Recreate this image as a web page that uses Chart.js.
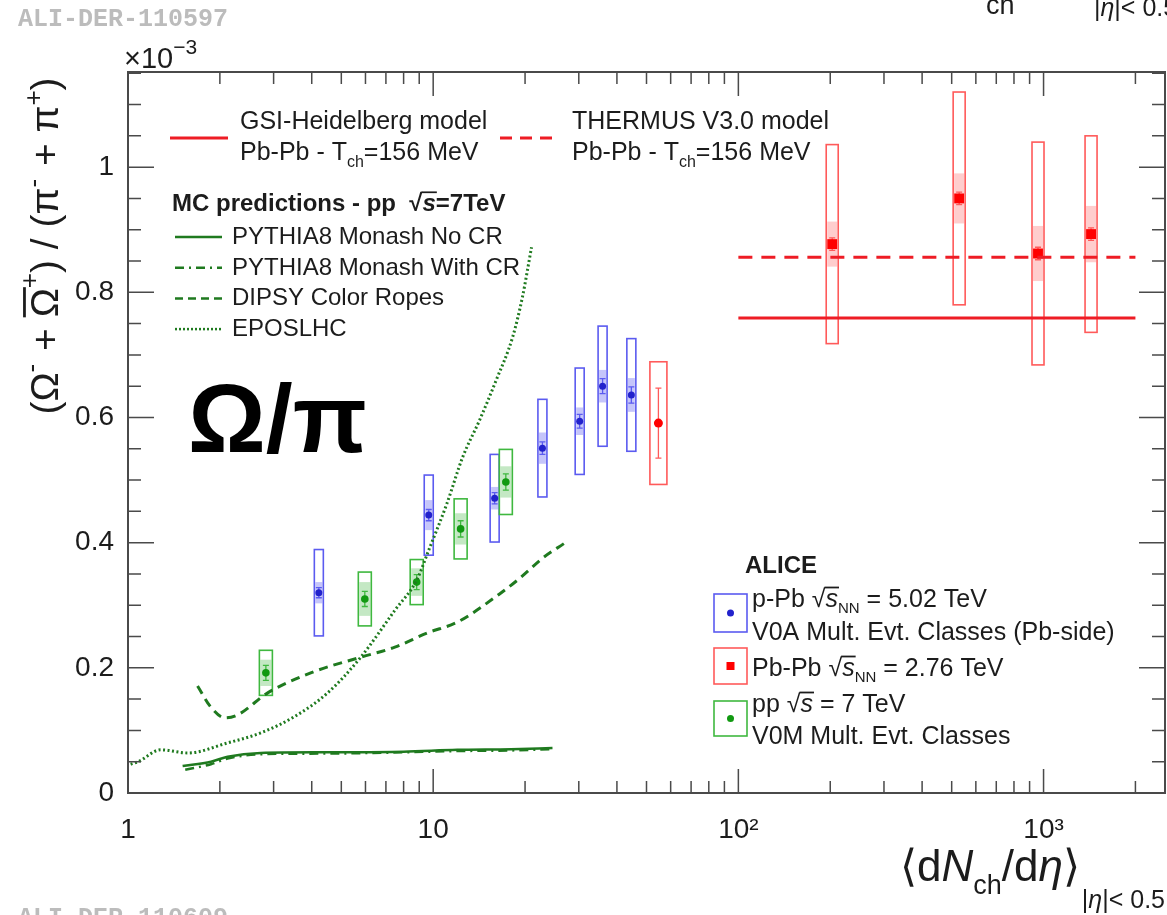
<!DOCTYPE html>
<html>
<head>
<meta charset="utf-8">
<script src="https://cdn.jsdelivr.net/npm/chart.js@4.4.1/dist/chart.umd.min.js"></script>
<style>
  html, body { margin: 0; padding: 0; background: #fff; }
  #wrap { width: 1167px; height: 915px; position: relative; }
</style>
</head>
<body>
<div id="wrap"><canvas id="omegaChart" width="1167" height="915"></canvas></div>
<script>
// ---- data (y in units of 1e-3) ----
const xTickVals = [1, 10, 100, 1000];
const xTickLabels = ['1', '10', '10²', '10³'];
const yTickVals = [0, 0.2, 0.4, 0.6, 0.8, 1];
const yTickLabels = ['0', '0.2', '0.4', '0.6', '0.8', '1'];

// p-Pb 5.02 TeV
const pPbX = [4.22, 9.67, 15.9, 22.8, 30.2, 35.9, 44.6];
const pPbY = [0.320, 0.444, 0.471, 0.551, 0.594, 0.650, 0.636];
const pPbSys = [0.069, 0.064, 0.070, 0.078, 0.085, 0.096, 0.090];
const pPbUnc = [0.017, 0.024, 0.018, 0.025, 0.022, 0.026, 0.027];
const pPbStat = [0.008, 0.009, 0.009, 0.010, 0.011, 0.012, 0.013];

// Pb-Pb 2.76 TeV
const pbPbX = [54.7, 203, 529, 959, 1431];
const pbPbY = [0.591, 0.877, 0.950, 0.862, 0.893];
const pbPbSys = [0.098, 0.159, 0.170, 0.178, 0.157];
const pbPbUnc = [0, 0.036, 0.040, 0.044, 0.045];
const pbPbStat = [0.056, 0.010, 0.010, 0.010, 0.010];

// pp 7 TeV
const ppX = [2.83, 5.97, 8.83, 12.3, 17.3];
const ppY = [0.192, 0.310, 0.337, 0.422, 0.497];
const ppSys = [0.036, 0.043, 0.036, 0.048, 0.052];
const ppUnc = [0.021, 0.027, 0.022, 0.025, 0.025];
const ppStat = [0.012, 0.012, 0.012, 0.013, 0.013];

// thermal models
const gsiX = [100, 2000];
const gsiY = [0.759, 0.759];
const thermusX = [100, 2000];
const thermusY = [0.856, 0.856];

// MC predictions pp 7 TeV
const pyNoCrX = [1.51, 1.87, 2.12, 2.72, 4.5, 8, 12, 18, 24.6];
const pyNoCrY = [0.043, 0.050, 0.058, 0.064, 0.065, 0.066, 0.069, 0.070, 0.072];
const pyCrX = [1.54, 1.87, 2.12, 2.72, 4.5, 8, 12, 18, 24.6];
const pyCrY = [0.037, 0.046, 0.055, 0.062, 0.063, 0.065, 0.067, 0.068, 0.070];
const dipsyX = [1.69, 1.87, 2.08, 2.29, 2.87, 3.97, 5.79, 7.49, 9.6, 12.0, 16.5, 19.2, 22.8, 26.9];
const dipsyY = [0.171, 0.137, 0.120, 0.125, 0.160, 0.192, 0.217, 0.233, 0.256, 0.273, 0.318, 0.343, 0.375, 0.399];
const eposX = [1.02, 1.08, 1.28, 1.57, 2.12, 2.72, 3.51, 4.51, 5.79, 7.49, 8.83, 9.67, 11.1, 12.5, 14.2, 16.1, 18.2, 19.6, 21.0];
const eposY = [0.046, 0.050, 0.069, 0.064, 0.080, 0.096, 0.122, 0.160, 0.217, 0.292, 0.340, 0.388, 0.463, 0.537, 0.596, 0.660, 0.728, 0.792, 0.872];

const FONT = '"Liberation Sans", Arial, Helvetica, sans-serif';
const TXT = '#1c1c1c';
const RED = '#ee1c25';
const GREEN_LINE = '#1f7a1f';
const BLUE_BOX = '#5b5bf0';
const RED_BOX = '#ff5a5a';
const GREEN_BOX = '#3fb83f';

const zip = (xs, ys) => xs.map((x, i) => ({ x: x, y: ys[i] }));

// draws a run of text pieces (sub/superscripts, overlines), returns width
function drawPieces(ctx, x, y, pieces, measureOnly) {
    let cx = x;
    pieces.forEach(p => {
        ctx.font = (p.italic ? 'italic ' : '') + (p.bold ? 'bold ' : '') + p.size + 'px ' + FONT;
        const w = ctx.measureText(p.t).width;
        if (!measureOnly) {
            ctx.fillText(p.t, cx, y + (p.dy || 0));
            if (p.over) {
                ctx.save();
                ctx.strokeStyle = ctx.fillStyle;
                ctx.lineWidth = Math.max(1.2, p.size / 14);
                const oy = y + (p.dy || 0) - p.size * (p.overH || 0.8);
                ctx.beginPath();
                ctx.moveTo(cx - (p.overL || 0), oy);
                ctx.lineTo(cx + w + 1, oy);
                ctx.stroke();
                ctx.restore();
            }
        }
        cx += w + (p.gap || 0);
    });
    return cx - x;
}

function sqrtS(size, sub) {
    const arr = [
        { t: '√', size: size },
        { t: 's', size: size, italic: true, over: true, overH: 0.78, overL: 1 }
    ];
    if (sub) arr.push({ t: sub, size: size * 0.6, dy: size * 0.22 });
    return arr;
}

// systematic boxes + error bars, drawn under the markers
const errorBoxes = {
    id: 'errorBoxes',
    beforeDatasetsDraw(chart) {
        const { ctx, chartArea, scales: { x, y } } = chart;
        ctx.save();
        ctx.beginPath();
        ctx.rect(chartArea.left, chartArea.top, chartArea.width, chartArea.height);
        ctx.clip();
        const groups = [
            { xs: pPbX, ys: pPbY, sys: pPbSys, unc: pPbUnc, stat: pPbStat, col: BLUE_BOX, fill: 'rgba(90,90,240,0.35)', hw: () => 4.5 },
            { xs: pbPbX, ys: pbPbY, sys: pbPbSys, unc: pbPbUnc, stat: pbPbStat, col: RED_BOX, fill: 'rgba(255,90,90,0.3)', hw: i => (i === 0 ? 8.5 : 6) },
            { xs: ppX, ys: ppY, sys: ppSys, unc: ppUnc, stat: ppStat, col: GREEN_BOX, fill: 'rgba(60,180,60,0.3)', hw: () => 6.5 }
        ];
        groups.forEach(g => {
            g.xs.forEach((xv, i) => {
                const px = x.getPixelForValue(xv);
                const hw = g.hw(i);
                const top = y.getPixelForValue(g.ys[i] + g.sys[i]);
                const bot = y.getPixelForValue(g.ys[i] - g.sys[i]);
                if (g.unc[i] > 0) {
                    const ut = y.getPixelForValue(g.ys[i] + g.unc[i]);
                    const ub = y.getPixelForValue(g.ys[i] - g.unc[i]);
                    ctx.fillStyle = g.fill;
                    ctx.fillRect(px - hw + 1, ut, 2 * hw - 2, ub - ut);
                }
                ctx.strokeStyle = g.col;
                ctx.lineWidth = 1.6;
                ctx.strokeRect(px - hw, top, 2 * hw, bot - top);
                // stat error bar
                const st = y.getPixelForValue(g.ys[i] + g.stat[i]);
                const sb = y.getPixelForValue(g.ys[i] - g.stat[i]);
                ctx.lineWidth = 1.3;
                ctx.beginPath();
                ctx.moveTo(px, st); ctx.lineTo(px, sb);
                ctx.moveTo(px - 3, st); ctx.lineTo(px + 3, st);
                ctx.moveTo(px - 3, sb); ctx.lineTo(px + 3, sb);
                ctx.stroke();
            });
        });
        ctx.restore();
    }
};

// ROOT-like frame, inward ticks and all the annotation text
const frameAndText = {
    id: 'frameAndText',
    afterDraw(chart) {
        const { ctx, chartArea: ca, scales: { x, y } } = chart;
        ctx.save();
        ctx.strokeStyle = '#4a4a4a';
        ctx.lineWidth = 2;
        ctx.strokeRect(ca.left, ca.top, ca.right - ca.left, ca.bottom - ca.top);

        ctx.lineWidth = 1.5;
        ctx.beginPath();
        // x ticks (bottom and top)
        for (let d = 1; d <= 1000; d *= 10) {
            for (let k = 1; k <= 9; k++) {
                const v = k * d;
                if (v > x.max) break;
                const px = x.getPixelForValue(v);
                const len = k === 1 ? 24 : 12;
                ctx.moveTo(px, ca.bottom); ctx.lineTo(px, ca.bottom - len);
                ctx.moveTo(px, ca.top); ctx.lineTo(px, ca.top + len);
            }
        }
        // y ticks (left and right)
        for (let i = 0; i * 0.05 <= y.max + 1e-9; i++) {
            const py = y.getPixelForValue(i * 0.05);
            const len = i % 4 === 0 ? 26 : 13;
            ctx.moveTo(ca.left, py); ctx.lineTo(ca.left + len, py);
            ctx.moveTo(ca.right, py); ctx.lineTo(ca.right - len, py);
        }
        ctx.stroke();

        ctx.fillStyle = TXT;
        ctx.textBaseline = 'alphabetic';
        ctx.textAlign = 'left';

        // x10^-3
        drawPieces(ctx, 124, 68, [
            { t: '×10', size: 29 },
            { t: '−3', size: 21, dy: -14 }
        ]);

        // y-axis title
        const yTitle = [
            { t: '(Ω', size: 39 },
            { t: '-', size: 26, dy: -18, gap: 2 },
            { t: ' + ', size: 39 },
            { t: 'Ω', size: 39, over: true, overH: 0.86 },
            { t: '+', size: 26, dy: -20 },
            { t: ') / (π', size: 39 },
            { t: '-', size: 26, dy: -16, gap: 2 },
            { t: ' + π', size: 39 },
            { t: '+', size: 26, dy: -16 },
            { t: ')', size: 39 }
        ];
        ctx.save();
        ctx.translate(58, 246);
        ctx.rotate(-Math.PI / 2);
        const tw = drawPieces(ctx, 0, 0, yTitle, true);
        drawPieces(ctx, -tw / 2, 0, yTitle);
        ctx.restore();

        // x-axis title, right-aligned on the canvas edge
        const xTitle = [
            { t: '⟨d', size: 44 },
            { t: 'N', size: 44, italic: true },
            { t: 'ch', size: 27, dy: 13 },
            { t: '/d', size: 44 },
            { t: 'η', size: 44, italic: true },
            { t: '⟩', size: 44, gap: 2 },
            { t: '|', size: 25, dy: 27 },
            { t: 'η', size: 25, dy: 27, italic: true },
            { t: '|< 0.5', size: 25, dy: 27 }
        ];
        const xw = drawPieces(ctx, 0, 0, xTitle, true);
        drawPieces(ctx, 1165 - xw, 881, xTitle);
        // cut-off title of the panel above
        ctx.font = '27px ' + FONT;
        ctx.fillText('ch', 986, 14);
        drawPieces(ctx, 1094, 16, [
            { t: '|', size: 25 },
            { t: 'η', size: 25, italic: true },
            { t: '|< 0.5', size: 25 }
        ]);

        // watermarks
        ctx.fillStyle = '#bcbcbc';
        ctx.font = 'bold 25px "Liberation Mono", "DejaVu Sans Mono", monospace';
        ctx.fillText('ALI-DER-110597', 18, 26);
        ctx.fillText('ALI-DER-110609', 18, 925);

        // Omega / pi label
        ctx.fillStyle = '#000';
        ctx.font = 'bold 97px ' + FONT;
        ctx.fillText('Ω/π', 188, 452);

        ctx.fillStyle = TXT;
        // thermal model legend
        ctx.lineWidth = 3;
        ctx.strokeStyle = RED;
        ctx.beginPath(); ctx.moveTo(170, 138); ctx.lineTo(228, 138); ctx.stroke();
        ctx.setLineDash([12, 8]);
        ctx.beginPath(); ctx.moveTo(500, 138); ctx.lineTo(555, 138); ctx.stroke();
        ctx.setLineDash([]);
        ctx.font = '25px ' + FONT;
        ctx.fillText('GSI-Heidelberg model', 240, 129);
        drawPieces(ctx, 240, 160, [
            { t: 'Pb-Pb - T', size: 25 }, { t: 'ch', size: 16, dy: 7 }, { t: '=156 MeV', size: 25 }
        ]);
        ctx.font = '25px ' + FONT;
        ctx.fillText('THERMUS V3.0 model', 572, 129);
        drawPieces(ctx, 572, 160, [
            { t: 'Pb-Pb - T', size: 25 }, { t: 'ch', size: 16, dy: 7 }, { t: '=156 MeV', size: 25 }
        ]);

        // MC legend
        drawPieces(ctx, 172, 211, [
            { t: 'MC predictions - pp  ', size: 24, bold: true }
        ].concat(sqrtS(24).map(p => Object.assign({ bold: true }, p))).concat([
            { t: '=7TeV', size: 24, bold: true }
        ]));
        const mcEntries = [
            { label: 'PYTHIA8 Monash No CR', dash: [] },
            { label: 'PYTHIA8 Monash With CR', dash: [9, 5, 2, 5] },
            { label: 'DIPSY Color Ropes', dash: [8, 5] },
            { label: 'EPOSLHC', dash: [2, 2] }
        ];
        ctx.strokeStyle = GREEN_LINE;
        ctx.lineWidth = 2.5;
        mcEntries.forEach((e, i) => {
            const ly = 237 + i * 30.7;
            ctx.setLineDash(e.dash);
            ctx.beginPath(); ctx.moveTo(175, ly); ctx.lineTo(222, ly); ctx.stroke();
            ctx.setLineDash([]);
            ctx.font = '24px ' + FONT;
            ctx.fillText(e.label, 232, ly + 7);
        });

        // ALICE legend
        ctx.font = 'bold 24px ' + FONT;
        ctx.fillText('ALICE', 745, 573);
        const boxes = [
            { y0: 594, y1: 632, col: BLUE_BOX, mk: '#2222cc', sq: false },
            { y0: 648, y1: 684, col: RED_BOX, mk: '#ff0000', sq: true },
            { y0: 701, y1: 736, col: GREEN_BOX, mk: '#119911', sq: false }
        ];
        boxes.forEach(b => {
            ctx.strokeStyle = b.col;
            ctx.lineWidth = 1.6;
            ctx.strokeRect(714, b.y0, 33, b.y1 - b.y0);
            ctx.fillStyle = b.mk;
            const cy = (b.y0 + b.y1) / 2;
            if (b.sq) ctx.fillRect(726.5, cy - 4, 8, 8);
            else { ctx.beginPath(); ctx.arc(730.5, cy, 3.5, 0, Math.PI * 2); ctx.fill(); }
        });
        ctx.fillStyle = TXT;
        drawPieces(ctx, 752, 607, [{ t: 'p-Pb ', size: 25 }].concat(sqrtS(25, 'NN')).concat([{ t: ' = 5.02 TeV', size: 25 }]));
        ctx.font = '25px ' + FONT;
        ctx.fillText('V0A Mult. Evt. Classes (Pb-side)', 752, 640);
        drawPieces(ctx, 752, 676, [{ t: 'Pb-Pb ', size: 25 }].concat(sqrtS(25, 'NN')).concat([{ t: ' = 2.76 TeV', size: 25 }]));
        drawPieces(ctx, 752, 712, [{ t: 'pp ', size: 25 }].concat(sqrtS(25)).concat([{ t: ' = 7 TeV', size: 25 }]));
        ctx.font = '25px ' + FONT;
        ctx.fillText('V0M Mult. Evt. Classes', 752, 744);

        ctx.restore();
    }
};

const ctx = document.getElementById('omegaChart').getContext('2d');
const omegaChart = new Chart(ctx, {
    type: 'scatter',
    data: {
        datasets: [
            { type: 'line', data: zip(gsiX, gsiY), borderColor: RED, borderWidth: 3, pointRadius: 0 },
            { type: 'line', data: zip(thermusX, thermusY), borderColor: RED, borderWidth: 3, borderDash: [14, 9], pointRadius: 0 },
            { type: 'line', data: zip(pyNoCrX, pyNoCrY), borderColor: GREEN_LINE, borderWidth: 2.5, pointRadius: 0, cubicInterpolationMode: 'monotone' },
            { type: 'line', data: zip(pyCrX, pyCrY), borderColor: GREEN_LINE, borderWidth: 2.5, borderDash: [9, 5, 2, 5], pointRadius: 0, cubicInterpolationMode: 'monotone' },
            { type: 'line', data: zip(dipsyX, dipsyY), borderColor: GREEN_LINE, borderWidth: 3, borderDash: [9, 6], pointRadius: 0, cubicInterpolationMode: 'monotone' },
            { type: 'line', data: zip(eposX, eposY), borderColor: GREEN_LINE, borderWidth: 3, borderDash: [2, 2.5], pointRadius: 0, cubicInterpolationMode: 'monotone' },
            { data: zip(pPbX, pPbY), pointStyle: 'circle', pointRadius: 3.5, backgroundColor: '#2222cc', borderWidth: 0 },
            { data: zip(ppX, ppY), pointStyle: 'circle', pointRadius: 3.8, backgroundColor: '#119911', borderWidth: 0 },
            { data: zip(pbPbX, pbPbY), pointStyle: pbPbX.map((v, i) => (i === 0 ? 'circle' : 'rect')), pointRadius: pbPbX.map((v, i) => (i === 0 ? 4.5 : 7)), backgroundColor: '#ff0000', borderWidth: 0 }
        ]
    },
    options: {
        responsive: false,
        animation: false,
        layout: { autoPadding: false, padding: { top: 72, right: 2, left: 0, bottom: 0 } },
        plugins: { legend: { display: false }, tooltip: { enabled: false } },
        scales: {
            x: {
                type: 'logarithmic',
                min: 1,
                max: 2500,
                grid: { display: false, drawTicks: false },
                border: { display: false },
                afterBuildTicks: s => { s.ticks = xTickVals.map(v => ({ value: v })); },
                afterFit: s => { s.height = 122; s.paddingLeft = 0; s.paddingRight = 0; },
                ticks: {
                    autoSkip: false,
                    maxRotation: 0,
                    padding: 20,
                    color: TXT,
                    font: { family: FONT, size: 28 },
                    callback: (v, i) => xTickLabels[i]
                }
            },
            y: {
                type: 'linear',
                min: 0,
                max: 1.152,
                grid: { display: false, drawTicks: false },
                border: { display: false },
                afterBuildTicks: s => { s.ticks = yTickVals.map(v => ({ value: v })); },
                afterFit: s => { s.width = 128; s.paddingTop = 0; s.paddingBottom = 0; },
                ticks: {
                    padding: 14,
                    color: TXT,
                    font: { family: FONT, size: 28 },
                    callback: (v, i) => yTickLabels[i]
                }
            }
        }
    },
    plugins: [errorBoxes, frameAndText]
});
</script>
</body>
</html>
